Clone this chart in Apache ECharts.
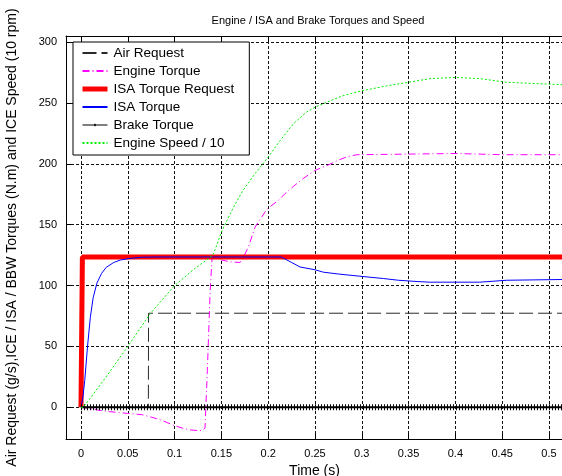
<!DOCTYPE html>
<html>
<head>
<meta charset="utf-8">
<script src="https://cdn.jsdelivr.net/npm/echarts@6/dist/echarts.min.js"></script>
<style>
  html, body { margin: 0; padding: 0; background: #fff; }
  #chart { width: 562px; height: 476px; }
</style>
</head>
<body>
<div id="chart"></div>
<script>
// 刻度
const xTicks = [0, 0.05, 0.1, 0.15, 0.2, 0.25, 0.3, 0.35, 0.4, 0.45, 0.5];
const yTicks = [0, 50, 100, 150, 200, 250, 300];

// Air Request
const airT = [0, 0.072, 0.0722, 0.515];
const airV = [0, 0, 77.3, 77.3];

// Engine Torque
const engT = [0, 0.01, 0.02, 0.03, 0.05, 0.065, 0.075, 0.084, 0.092, 0.1, 0.108, 0.116, 0.124, 0.13, 0.1325, 0.135, 0.138, 0.14, 0.145, 0.15, 0.16, 0.17, 0.174,
              0.179, 0.186, 0.191, 0.198, 0.204, 0.211, 0.218, 0.227, 0.2375, 0.25, 0.264, 0.275, 0.285, 0.295, 0.35, 0.4, 0.45, 0.515];
const engV = [0, -1, -2.5, -3.5, -5, -6, -8, -10, -12.5, -15, -17, -18.5, -19, -19, -17, 30, 95, 122, 124, 121, 119.5, 119, 124,
              132, 148, 154, 162, 166, 170, 175.5, 181.5, 188, 194.6, 199, 203, 206, 207.5, 208, 208.5, 207.5, 207.5];

// ISA Torque Request
const reqT = [0, 0.0005, 0.0015, 0.515];
const reqV = [0, 40, 123.5, 123.5];

// ISA Torque
const isaT = [0, 0.002, 0.004, 0.007, 0.01, 0.013, 0.017, 0.022, 0.027, 0.035, 0.042, 0.052, 0.065, 0.08, 0.214, 0.225, 0.234, 0.25,
              0.259, 0.275, 0.298, 0.323, 0.339, 0.36, 0.373, 0.426, 0.428, 0.455, 0.515];
const isaV = [0, 8, 22, 50, 74, 90, 102, 110, 115, 119, 121, 122.3, 123.3, 123.5, 123.5, 119, 115.3, 113,
              111, 109.5, 107.7, 105.8, 104.4, 103.3, 102.8, 102.8, 103.9, 104.4, 105];

// Brake Torque
const brakeT = [0, 0.515];
const brakeV = [0, 0];

// Engine Speed / 10
const spdT = [0, 0.0025, 0.024, 0.05, 0.074, 0.1, 0.12, 0.141, 0.145, 0.15, 0.163, 0.173, 0.186, 0.2, 0.2126, 0.227, 0.241, 0.25,
              0.2625, 0.28, 0.3, 0.3266, 0.35, 0.373, 0.4, 0.426, 0.455, 0.483, 0.515];
const spdV = [0, 0, 22, 50, 77, 100, 113, 125, 133, 144, 164.5, 178, 192, 205.5, 219, 233, 242.5, 246.5,
              250.6, 256, 260, 264, 267, 270, 271, 270, 267, 266, 265];

const FONT = 'Liberation Sans';

function pairs(t, v) {
    return t.map((x, i) => [x, v[i]]);
}

function lineSeries(name, t, v, color, width, type, extra) {
    return Object.assign({
        name: name,
        type: 'line',
        data: pairs(t, v),
        symbol: 'none',
        lineStyle: { color: color, width: width, type: type },
        itemStyle: { color: color },
        emphasis: { disabled: true },
        clip: true
    }, extra || {});
}

const chart = echarts.init(document.getElementById('chart'));

const gridLine = { show: true, lineStyle: { color: '#111', width: 1, type: [3, 2] } };
// 图例里刹车扭矩：线 + 小点
const brakeIcon = 'path://M0,0L0,0ZM25,12L25,12ZM0,5.5H25V6.5H0ZM12.5,4.5L14,6L12.5,7.5L11,6Z';

chart.setOption({
    animation: false,
    backgroundColor: '#fff',
    title: {
        text: 'Engine / ISA and Brake Torques and Speed',
        left: 313, top: 10, textAlign: 'center',
        textStyle: { fontFamily: FONT, fontSize: 11, fontWeight: 'normal', color: '#000' }
    },
    grid: { left: 66, right: -1, top: 36, bottom: 37, outerBoundsMode: 'none' },
    legend: {
        orient: 'vertical',
        left: 73, top: 42,
        padding: [4, 15, 5, 7],
        itemGap: 4,
        itemWidth: 25, itemHeight: 12,
        backgroundColor: '#fff',
        borderColor: '#000', borderWidth: 1,
        itemStyle: { opacity: 0 },
        textStyle: { fontFamily: FONT, fontSize: 13.5, color: '#000', padding: [0, 0, 0, 1] },
        data: ['Air Request', 'Engine Torque',
               { name: 'ISA Torque Request', lineStyle: { width: 5 } },
               'ISA Torque',
               { name: 'Brake Torque', icon: brakeIcon, itemStyle: { opacity: 1 } },
               'Engine Speed / 10']
    },
    xAxis: [{
        type: 'value', min: -0.016, max: 0.515,
        name: 'Time (s)', nameLocation: 'middle', nameGap: 19,
        nameTextStyle: { fontFamily: FONT, fontSize: 14, color: '#000' },
        axisLine: { onZero: false, lineStyle: { color: '#000' } },
        axisTick: { inside: true, length: 5, customValues: xTicks, lineStyle: { color: '#000' } },
        axisLabel: { customValues: xTicks, fontFamily: FONT, fontSize: 11, color: '#000', margin: 9 },
        splitLine: gridLine
    }, {
        type: 'value', min: -0.016, max: 0.515, position: 'top',
        axisLine: { onZero: false, lineStyle: { color: '#000' } },
        axisTick: { inside: true, length: 5, customValues: xTicks, lineStyle: { color: '#000' } },
        axisLabel: { show: false },
        splitLine: { show: false }
    }],
    yAxis: {
        type: 'value', min: -26, max: 305,
        name: 'Air Request (g/s),ICE / ISA / BBW Torques (N.m) and ICE Speed (10 rpm)',
        nameLocation: 'middle', nameGap: 47,
        nameTextStyle: { fontFamily: FONT, fontSize: 14, color: '#000' },
        axisLine: { show: true, onZero: false, lineStyle: { color: '#000' } },
        axisTick: { show: true, inside: true, length: 5, customValues: yTicks, lineStyle: { color: '#000' } },
        axisLabel: { customValues: yTicks, fontFamily: FONT, fontSize: 11, color: '#000', margin: 9 },
        splitLine: gridLine
    },
    series: [
        lineSeries('Air Request', airT, airV, '#2a2a2a', 1, [14, 5]),
        lineSeries('Engine Torque', engT, engV, '#ff00ff', 1, [7, 3, 1, 3]),
        lineSeries('ISA Torque Request', reqT, reqV, '#ff0000', 5, 'solid'),
        lineSeries('ISA Torque', isaT, isaV, '#0000ff', 1, 'solid'),
        lineSeries('Brake Torque', brakeT, brakeV, '#000', 2, 'solid'),
        // 标记点效果
        lineSeries('', brakeT, brakeV, '#000', 6, [1, 2]),
        lineSeries('Engine Speed / 10', spdT, spdV, '#00ee00', 1, [2, 2])
    ]
});
</script>
</body>
</html>
